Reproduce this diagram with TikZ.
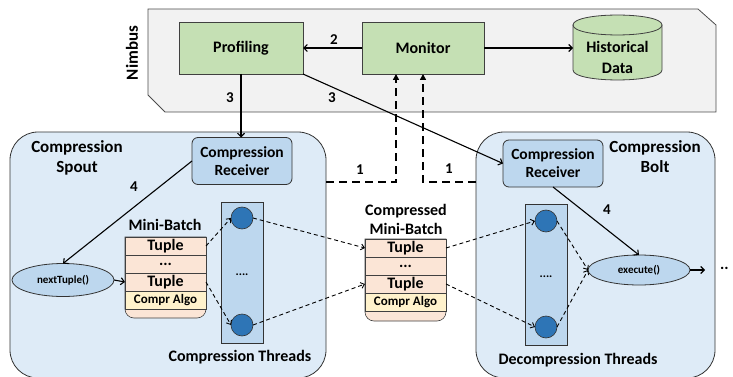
\documentclass[tikz,border=0pt]{standalone}
\usepackage{fontspec}
\setmainfont{Carlito}
\usetikzlibrary{shapes.geometric,arrows.meta}
\definecolor{panelgray}{HTML}{F2F2F2}
\definecolor{boxgreen}{HTML}{C5E0B4}
\definecolor{lightblue}{HTML}{DEEBF7}
\definecolor{midblue}{HTML}{BDD7EE}
\definecolor{darkblue}{HTML}{2E75B6}
\definecolor{peach}{HTML}{FBE5D6}
\definecolor{cream}{HTML}{FFF2CC}
\begin{document}
\begin{tikzpicture}[x=1pt,y=-1pt,
  every node/.style={inner sep=0pt, outer sep=0pt, font=\bfseries\fontsize{15}{17}\selectfont},
  greenbox/.style={draw=black!75, line width=0.8pt, fill=boxgreen, minimum height=52pt, font=\bfseries\fontsize{16}{18}\selectfont},
  container/.style={draw=black!80, line width=0.8pt, fill=lightblue, rounded corners=28pt, minimum width=#1, minimum height=246pt},
  recv/.style={draw=black!80, line width=0.8pt, fill=midblue, rounded corners=6pt, minimum width=100pt, minimum height=47pt, align=center, font=\bfseries\fontsize{15.5}{18}\selectfont},
  column/.style={draw=black!80, line width=0.8pt, fill=midblue, minimum width=42pt, minimum height=141pt},
  thread/.style={circle, draw=black!80, line width=0.6pt, fill=darkblue, minimum size=22pt},
  method/.style={ellipse, draw=black!80, line width=0.8pt, fill=midblue, minimum width=102pt, font=\bfseries\fontsize{11}{13}\selectfont},
  row/.style={draw=black!75, line width=0.6pt, fill=peach, minimum width=81pt, minimum height=18pt, font=\bfseries\fontsize{16}{17}\selectfont},
  algorow/.style={row, fill=cream, font=\bfseries\fontsize{13}{15}\selectfont},
  lbl/.style={align=center, font=\bfseries\fontsize{16}{19}\selectfont},
  biglbl/.style={align=center, font=\bfseries\fontsize{17}{20}\selectfont},
  num/.style={font=\bfseries\fontsize{15}{17}\selectfont},
  arr/.style={line width=1.1pt, -{Straight Barb[length=3.5pt,width=7pt]}},
  darr/.style={line width=0.9pt, dash pattern=on 4pt off 3pt, -{Straight Barb[length=3.5pt,width=6pt]}},
  tdarr/.style={line width=2pt, dash pattern=on 8pt off 5pt, -{Triangle[length=6pt,width=6pt]}}
]
\useasboundingbox (0,0) rectangle (733,377);

% Nimbus panel
\draw[draw=black!70, line width=0.8pt, fill=panelgray] (148,9) -- (698,9) -- (716,25) -- (716,112) -- (165,112) -- (148,95) -- cycle;
\node[rotate=90, font=\bfseries\fontsize{17}{19}\selectfont] (nimbus) at (132,53) {Nimbus};

\node[greenbox, minimum width=124pt] (prof) at (241,48) {Profiling};
\node[greenbox, minimum width=122pt] (mon) at (423,48) {Monitor};

% Historical data cylinder
\draw[draw=black!75, line width=0.8pt, fill=boxgreen] (573,25) -- (573,70) .. controls (573,83.3) and (662,83.3) .. (662,70) -- (662,25) -- cycle;
\draw[draw=black!75, line width=0.8pt, fill=boxgreen] (573,25) .. controls (573,11.7) and (662,11.7) .. (662,25) .. controls (662,38.3) and (573,38.3) .. (573,25) -- cycle;
\node[align=center, minimum width=89pt, font=\bfseries\fontsize{16}{21}\selectfont] (hist) at (617.5,57) {Historical\\Data};
\coordinate (histw) at (573,48);

% Containers
\node[container=316pt] (spout) at (168,255) {};
\node[container=239pt] (bolt) at (595.5,255) {};
\node[biglbl] (spoutlbl) at (77,158) {Compression\\Spout};
\node[biglbl] (boltlbl) at (655,157) {Compression\\Bolt};

\node[recv] (srecv) at (242,161) {Compression\\Receiver};
\node[recv] (brecv) at (553,163.5) {Compression\\Receiver};

\node[method, minimum height=33pt] (nt) at (63,280) {nextTuple()};
\node[method, minimum height=30pt] (exec) at (639,270) {execute()};

% Mini-batch stack
\node[lbl] (mblbl) at (165,225) {Mini-Batch};
\draw[draw=black!75, line width=0.6pt, fill=peach] (125,237) -- (206,237) [rounded corners=9pt] -- (206,318) -- (125,318) [sharp corners] -- cycle;
\node[row] (sT1) at (165.5,246) {Tuple};
\node[row] (sD) at (165.5,264) {...};
\node[row] (sT2) at (165.5,282) {Tuple};
\node[algorow] (sA) at (165.5,300) {Compr Algo};

% Compressed mini-batch stack
\node[lbl] (cmblbl) at (406,219) {Compressed\\Mini-Batch};
\draw[draw=black!75, line width=0.6pt, fill=peach] (365,239) -- (446,239) [rounded corners=9pt] -- (446,321) -- (365,321) [sharp corners] -- cycle;
\node[row] (cT1) at (405.5,248) {Tuple};
\node[row] (cD) at (405.5,266) {...};
\node[row] (cT2) at (405.5,284) {Tuple};
\node[algorow] (cA) at (405.5,302) {Compr Algo};

% Thread columns
\node[column] (scol) at (242,272.5) {};
\node[font=\bfseries\fontsize{12}{14}\selectfont] (sdots) at (242,275) {....};
\node[thread] (sc1) at (242,218) {};
\node[thread] (sc2) at (242,325) {};
\node[lbl] (sthr) at (240,357) {Compression Threads};

\node[column] (bcol) at (546,275) {};
\node[font=\bfseries\fontsize{12}{14}\selectfont] (bdots) at (546,277) {....};
\node[thread] (bc1) at (546,221) {};
\node[thread] (bc2) at (546,327) {};
\node[lbl] (bthr) at (578,360) {Decompression Threads};

% Solid connectors
\draw[arr] (mon.west) -- (prof.east);
\draw[arr] (mon.east) -- (histw);
\draw[arr] (prof.south) -- (prof.south |- srecv.north);
\draw[arr] (prof.south east) -- (brecv.west);
\draw[arr] (srecv.west) -- (nt.north);
\draw[arr] (brecv.south) -- (exec.north);
\draw[arr] (nt.east) -- (sT2.west);
\coordinate (outend) at (705,270);
\draw[arr] (exec.east) -- (outend);
\node[font=\bfseries\fontsize{16}{18}\selectfont, anchor=west] (more) at (720,268) {..};

% Dashed data flow
\draw[darr] (sT1.east) -- (sc1.west);
\draw[darr] (sT2.east) -- (sc2.west);
\draw[darr] (sc1.east) -- (cT1.west);
\draw[darr] (sc2.east) -- (cT2.west);
\draw[darr] (cT1.east) -- (bc1.west);
\draw[darr] (cT2.east) -- (bc2.west);
\draw[darr] (bc1.east) -- (exec.west);
\draw[darr] (bc2.east) -- (exec.west);

% Heartbeat lines to monitor
\coordinate (sp1) at (326,182);
\coordinate (bo1) at (476,182);
\draw[tdarr] (sp1) -| ([xshift=-27pt]mon.south);
\draw[tdarr] (bo1) -| (mon.south);

% Numbers
\node[num] (n2) at (334,40) {2};
\node[num] (n3a) at (230,98) {3};
\node[num] (n3b) at (332,98) {3};
\node[num] (n1a) at (360,170) {1};
\node[num] (n1b) at (449,169) {1};
\node[num] (n4a) at (134,187) {4};
\node[num] (n4b) at (607,210) {4};
\end{tikzpicture}
\end{document}
